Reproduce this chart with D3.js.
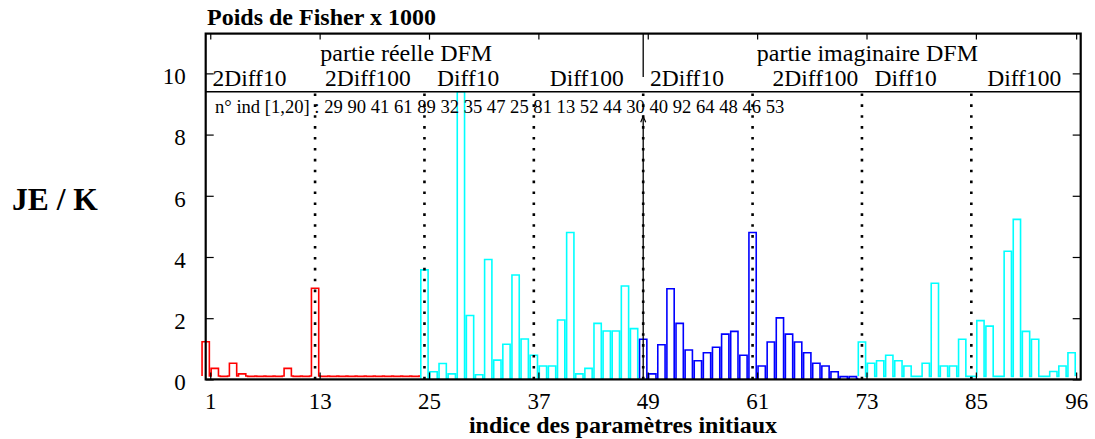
<!DOCTYPE html>
<html>
<head>
<meta charset="utf-8">
<script src="https://cdn.jsdelivr.net/npm/d3@7/dist/d3.min.js"></script>
<style>
  body { margin: 0; background: #fff; }
  svg { display: block; }
  text { font-family: "Liberation Serif", "Times New Roman", serif; fill: #000; }
</style>
</head>
<body>
<div id="chart"></div>
<script>
// poids de Fisher x 1000 (indices 1..96)
var reel2Diff  = [1.23,0.36,0.1,0.53,0.18,0.1,0.1,0.1,0.1,0.36,0.1,0.1,2.98,0.1,0.1,0.1,0.1,0.1,0.1,0.1,0.1,0.1,0.1,0.1];
var reelDiff   = [3.58,0.25,0.52,0.18,9.4,2.09,0.15,3.92,0.63,1.15,3.41,1.32,0.79,0.44,0.44,1.94,4.8,0.18,0.36,1.83,1.58,1.58,3.05,1.66];
var imag2Diff  = [1.31,0.18,1.13,2.96,1.83,0.96,0.61,0.87,1.05,1.48,1.57,0.79,4.8,0.44,1.22,2.01,1.48,1.22,0.87,0.53,0.44,0.25,0.09,0.09];
var imagDiff   = [1.22,0.53,0.61,0.79,0.61,0.44,0.1,0.53,3.14,0.44,0.44,1.31,0.1,1.92,1.74,0.1,4.19,5.23,1.57,1.31,0.1,0.26,0.44,0.87];
var debuts     = [1, 25, 49, 73];          // premier indice de chaque serie
var planchers  = [0.11, 0.03, 0.03, 0.1];  // niveau entre les barres

var xTicks = [1, 13, 25, 37, 49, 61, 73, 85, 96];
var yTicks = [0, 2, 4, 6, 8, 10];
var separations = [13, 25, 37, 49, 61, 73, 85];
var groupes = ["2Diff10", "2Diff100", "Diff10", "Diff100", "2Diff10", "2Diff100", "Diff10", "Diff100"];
var parties = ["partie réelle DFM", "partie imaginaire DFM"];
var ordre = [29, 90, 41, 61, 89, 32, 35, 47, 25, 81, 13, 52, 44, 30, 40, 92, 64, 48, 46, 53];

var series = [reel2Diff, reelDiff, imag2Diff, imagDiff];
var colors = ["#ff0000", "#00ffff", "#0000ff", "#00ffff"];

var W = 1095, H = 439;
var gauche = 205.7, droite = 1080.7, haut = 33.6, bas = 379.4;
var ligne = 9.4;      // ligne horizontale sous les etiquettes
var barW = 0.8;

var svg = d3.select("#chart").append("svg")
  .attr("width", W)
  .attr("height", H);

var x = d3.scaleLinear().domain([0.5, 96.5]).range([gauche, droite]);
var y = d3.scaleLinear().domain([0, 11.3]).range([bas, haut]);

// barres en escalier, une courbe par serie
series.forEach(function(vals, s){
  var f = planchers[s];
  var pts = [];
  vals.forEach(function(v, k){
    var c = debuts[s] + k - 0.5;
    pts.push([c - barW/2, f], [c - barW/2, v], [c + barW/2, v], [c + barW/2, f]);
  });
  if (s < series.length - 1) {
    pts.push([debuts[s+1] - 0.5 - barW/2, f]);
  }
  svg.append("path")
    .attr("d", d3.line().x(function(d){ return x(d[0]); }).y(function(d){ return y(d[1]); })(pts))
    .attr("fill", "none")
    .attr("stroke", colors[s])
    .attr("stroke-width", 1.6);
});

// separations pointillees
svg.selectAll(".sep")
  .data(separations)
  .enter()
  .append("line")
  .attr("class", "sep")
  .attr("x1", function(d){ return x(d - 0.5); })
  .attr("x2", function(d){ return x(d - 0.5); })
  .attr("y1", y(0))
  .attr("y2", y(ligne))
  .attr("stroke", "#000")
  .attr("stroke-width", 2.6)
  .attr("stroke-dasharray", "2.6,8.3");

// trait plein reel / imaginaire
var xm = x(48.5);
svg.append("line")
  .attr("x1", xm).attr("x2", xm)
  .attr("y1", y(0)).attr("y2", y(8.6))
  .attr("stroke", "#000").attr("stroke-width", 1.3);
svg.append("path")
  .attr("d", "M" + (xm - 2.5) + "," + (y(8.6) + 6) + "L" + xm + "," + y(8.6) + "L" + (xm + 2.5) + "," + (y(8.6) + 6))
  .attr("fill", "none").attr("stroke", "#000").attr("stroke-width", 1.2);
svg.append("line")
  .attr("x1", xm).attr("x2", xm)
  .attr("y1", y(9.88)).attr("y2", haut)
  .attr("stroke", "#000").attr("stroke-width", 1.3);

// ligne horizontale
svg.append("line")
  .attr("x1", gauche).attr("x2", droite)
  .attr("y1", y(ligne)).attr("y2", y(ligne))
  .attr("stroke", "#000").attr("stroke-width", 1.5);

// axes
var gx = svg.append("g")
  .attr("transform", "translate(0," + bas + ")")
  .call(d3.axisBottom(x).tickValues(xTicks).tickSize(-7).tickPadding(13));
svg.append("g")
  .attr("transform", "translate(0," + haut + ")")
  .call(d3.axisTop(x).tickValues(xTicks).tickSize(-6).tickFormat(""));
var gy = svg.append("g")
  .attr("transform", "translate(" + gauche + ",0)")
  .call(d3.axisLeft(y).tickValues(yTicks).tickSize(-8).tickPadding(20));
svg.append("g")
  .attr("transform", "translate(" + droite + ",0)")
  .call(d3.axisRight(y).tickValues(yTicks).tickSize(-8).tickFormat(""));

svg.selectAll(".domain").remove();
svg.selectAll(".tick line").attr("stroke", "#000").attr("stroke-width", 1.2);
svg.selectAll(".tick text")
  .attr("font-family", '"Liberation Serif", serif')
  .attr("font-size", 23)
  .attr("fill", "#000");
gy.selectAll(".tick text").attr("dy", "0.45em");

// cadre
svg.append("rect")
  .attr("x", gauche).attr("y", haut)
  .attr("width", droite - gauche).attr("height", bas - haut)
  .attr("fill", "none").attr("stroke", "#000").attr("stroke-width", 2.2);

// textes du bandeau
var partiePos = [22.5, 73.1];
svg.selectAll(".partie")
  .data(parties)
  .enter()
  .append("text")
  .attr("class", "partie")
  .attr("x", function(d, i){ return x(partiePos[i]); })
  .attr("y", 61)
  .attr("text-anchor", "middle")
  .attr("font-size", 24)
  .text(function(d){ return d; });

var groupePos = [5.3, 18.3, 29.3, 42.3, 53.3, 67.4, 77.3, 90.3];
svg.selectAll(".groupe")
  .data(groupes)
  .enter()
  .append("text")
  .attr("class", "groupe")
  .attr("x", function(d, i){ return x(groupePos[i]); })
  .attr("y", 85.5)
  .attr("text-anchor", "middle")
  .attr("font-size", 23.5)
  .text(function(d){ return d; });

svg.append("text")
  .attr("x", 215)
  .attr("y", 112.5)
  .attr("font-size", 18.6)
  .text("n° ind [1,20] : " + ordre.join(" "));

// titres
svg.append("text")
  .attr("x", 207)
  .attr("y", 25)
  .attr("font-size", 24)
  .attr("font-weight", "bold")
  .text("Poids de Fisher x 1000");

svg.append("text")
  .attr("x", 12)
  .attr("y", 209.5)
  .attr("font-size", 31.5)
  .attr("font-weight", "bold")
  .text("JE / K");

svg.append("text")
  .attr("x", 623)
  .attr("y", 432.5)
  .attr("text-anchor", "middle")
  .attr("font-size", 24)
  .attr("font-weight", "bold")
  .text("indice des paramètres initiaux");
</script>
</body>
</html>
